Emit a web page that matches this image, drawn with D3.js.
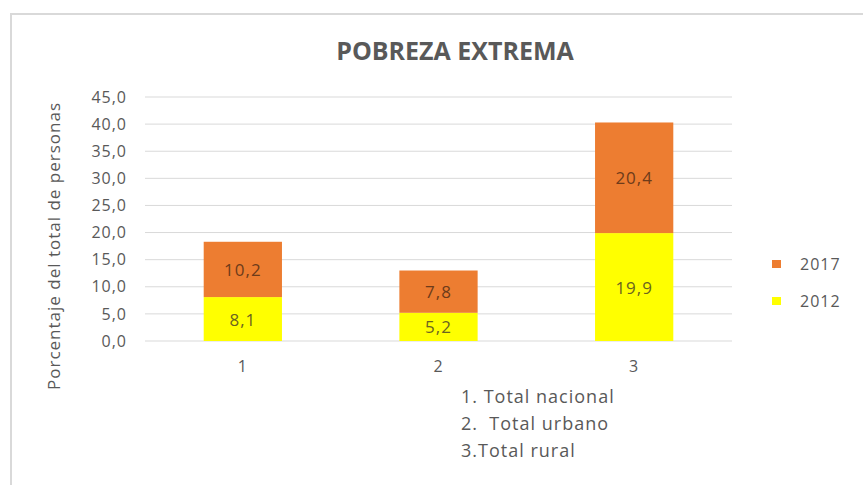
<!DOCTYPE html>
<html>
<head>
<meta charset="utf-8">
<script src="https://cdn.jsdelivr.net/npm/d3@7"></script>
<style>
  body { margin: 0; background: #fff; }
  svg text { font-family: "Open Sans", sans-serif; letter-spacing: 1px; }
</style>
</head>
<body>
<div id="chart"></div>
<script>
`use strict`;

// data
let categories = ['1', '2', '3'];
let values2012 = [8.1, 5.2, 19.9];
let values2017 = [10.2, 7.8, 20.4];
let seriesNames = ['2017', '2012'];
let yTicks = [0, 5, 10, 15, 20, 25, 30, 35, 40, 45];
let notes = ['1. Total nacional', '2.  Total urbano', '3.Total rural'];

let w = 863, h = 485;
let margin = {left: 145, right: 131, top: 97, bottom: 144};
let colors = {'2012': '#ffff00', '2017': '#ed7d31'};
let labelColors = {'2012': '#6b6420', '2017': '#6e3b1a'};

let svg = d3.select('#chart').append('svg')
    .attr('width', w).attr('height', h);

// outer frame
svg.append('path')
    .attr('d', `M11,${h} L11,14 L${w},14`)
    .attr('fill', 'none').attr('stroke', '#d9d9d9').attr('stroke-width', 2);

let x = d3.scaleBand().domain(categories)
    .range([margin.left, w - margin.right])
    .paddingInner(0.6).paddingOuter(0.3);
let y = d3.scaleLinear().domain([0, 45])
    .range([h - margin.bottom, margin.top]);

// gridlines
svg.append('g').selectAll('line').data(yTicks).join('line')
    .attr('x1', margin.left).attr('x2', w - margin.right)
    .attr('y1', d => y(d)).attr('y2', d => y(d))
    .attr('stroke', '#d9d9d9').attr('stroke-width', 1);

// y axis labels
let yAxis = svg.append('g')
    .attr('transform', `translate(${margin.left - 18},0)`)
    .call(d3.axisLeft(y).tickValues(yTicks).tickSize(0)
        .tickFormat(d => d3.format('.1f')(d).replace('.', ',')));
yAxis.select('.domain').remove();
yAxis.selectAll('text').attr('fill', '#595959').style('font-size', '16px')
    .attr('x', 0);

// x axis labels
let xAxis = svg.append('g')
    .attr('transform', `translate(0,${h - margin.bottom})`)
    .call(d3.axisBottom(x).tickSize(0));
xAxis.select('.domain').remove();
xAxis.selectAll('text').attr('fill', '#595959').style('font-size', '16px')
    .attr('y', 20);

// stacked bars
let rows = categories.map((c, i) => ({cat: c, '2012': values2012[i], '2017': values2017[i]}));
let stack = d3.stack().keys(['2012', '2017'])(rows);

let groups = svg.append('g').selectAll('g').data(stack).join('g')
    .attr('fill', d => colors[d.key]);
groups.selectAll('rect').data(d => d).join('rect')
    .attr('x', d => x(d.data.cat))
    .attr('width', x.bandwidth())
    .attr('y', d => y(d[1]))
    .attr('height', d => y(d[0]) - y(d[1]));

// value labels
stack.forEach(s => {
    svg.append('g').selectAll('text').data(s).join('text')
        .attr('x', d => x(d.data.cat) + x.bandwidth() / 2)
        .attr('y', d => (y(d[0]) + y(d[1])) / 2)
        .attr('text-anchor', 'middle').attr('dominant-baseline', 'central')
        .attr('fill', labelColors[s.key])
        .style('font-size', '17px')
        .text(d => d3.format('.1f')(d[1] - d[0]).replace('.', ','));
});

// title
svg.append('text')
    .attr('x', 455).attr('y', 60)
    .attr('text-anchor', 'middle')
    .attr('fill', '#595959').style('font-size', '25px').style('font-weight', 'bold')
    .style('letter-spacing', '0px')
    .text('POBREZA EXTREMA');

// y axis title
svg.append('text')
    .attr('transform', `translate(60,246) rotate(-90)`)
    .attr('text-anchor', 'middle')
    .attr('fill', '#595959').style('font-size', '17px')
    .text('Porcentaje del total de personas');

// legend
let legend = svg.append('g').selectAll('g').data(seriesNames).join('g')
    .attr('transform', (d, i) => `translate(772,${264 + i * 37})`);
legend.append('rect')
    .attr('x', 0).attr('y', -4).attr('width', 9).attr('height', 8)
    .attr('fill', d => colors[d]);
legend.append('text')
    .attr('x', 28).attr('y', 0).attr('dominant-baseline', 'central')
    .attr('fill', '#595959').style('font-size', '16px')
    .text(d => d);

// notes under the axis (keep the double space)
svg.append('g').selectAll('text').data(notes).join('text')
    .attr('x', 461).attr('y', (d, i) => 403 + i * 27)
    .attr('fill', '#595959').style('font-size', '18px')
    .style('white-space', 'pre')
    .text(d => d);
</script>
</body>
</html>
